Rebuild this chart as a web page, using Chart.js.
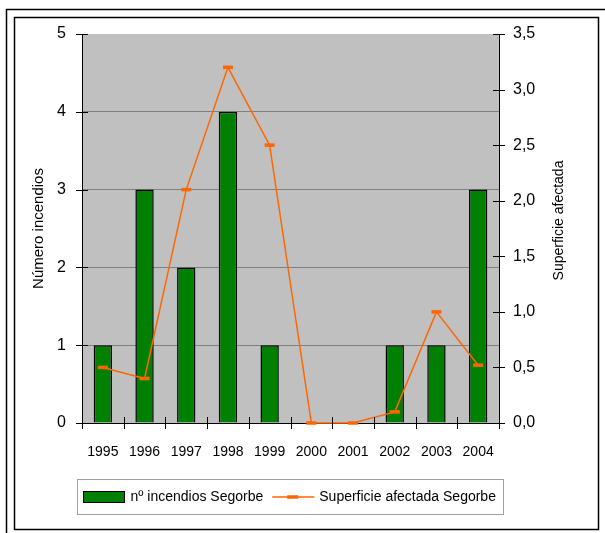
<!DOCTYPE html>
<html>
<head>
<meta charset="utf-8">
<script src="https://cdn.jsdelivr.net/npm/chart.js@4/dist/chart.umd.min.js"></script>
<style>
  body { margin: 0; background: #fff; }
  #grafico { display: block; }
</style>
</head>
<body>
<canvas id="grafico" width="605" height="533"></canvas>
<script>
// datos
const anios = ['1995', '1996', '1997', '1998', '1999', '2000', '2001', '2002', '2003', '2004'];
const numIncendios = [1, 3, 2, 4, 1, 0, 0, 1, 1, 3];
const superficie = [0.5, 0.4, 2.1, 3.2, 2.5, 0, 0, 0.1, 1.0, 0.52];
const ticksIzq = [0, 1, 2, 3, 4, 5];
const ticksDer = [0, 0.5, 1, 1.5, 2, 2.5, 3, 3.5];

const fuente = '"Liberation Sans", Arial, sans-serif';
const naranja = '#FF6600';
const verde = '#008000';

Chart.defaults.font.family = fuente;
Chart.defaults.font.size = 14;
Chart.defaults.color = '#000';

// fondo, marcos, marcas de eje cruzadas, titulo derecho y leyenda
const decorado = {
  id: 'decorado',
  beforeDraw(chart) {
    const c = chart.ctx, a = chart.chartArea;
    c.save();
    c.fillStyle = '#fff';
    c.fillRect(0, 0, chart.width, chart.height);
    c.fillStyle = '#C0C0C0';
    c.fillRect(a.left, a.top, a.right - a.left, a.bottom - a.top);
    c.restore();
  },
  afterDraw(chart) {
    const c = chart.ctx, a = chart.chartArea;
    c.save();
    c.strokeStyle = '#000';
    c.lineWidth = 1.5;
    // marco exterior
    c.beginPath();
    c.moveTo(6.5, 533); c.lineTo(6.5, 9.5); c.lineTo(605, 9.5);
    c.stroke();
    // marco interior
    c.strokeRect(14.5, 17.5, 584, 512);

    c.lineWidth = 1;
    // marcas eje izquierdo
    const y = chart.scales.y;
    ticksIzq.forEach(v => {
      const py = Math.round(y.getPixelForValue(v)) + 0.5;
      c.beginPath(); c.moveTo(a.left - 6, py); c.lineTo(a.left + 6, py); c.stroke();
    });
    const y1 = chart.scales.y1;
    ticksDer.forEach(v => {
      const py = Math.round(y1.getPixelForValue(v)) + 0.5;
      c.beginPath(); c.moveTo(a.right - 6, py); c.lineTo(a.right + 6, py); c.stroke();
    });
    const x = chart.scales.x;
    const paso = (x.getPixelForValue(1) - x.getPixelForValue(0));
    for (let i = 0; i <= anios.length; i++) {
      const px = Math.round(x.getPixelForValue(i) - paso / 2) + 0.5;
      c.beginPath(); c.moveTo(px, a.bottom - 6); c.lineTo(px, a.bottom + 6); c.stroke();
    }

    // titulo eje derecho (leido de abajo a arriba)
    c.fillStyle = '#000';
    c.font = '14px ' + fuente;
    c.translate(559, (a.top + a.bottom) / 2 - 8);
    c.rotate(-Math.PI / 2);
    c.textAlign = 'center';
    c.textBaseline = 'middle';
    c.fillText('Superficie afectada', 0, 0);
    c.restore();

    // leyenda
    const ds = chart.data.datasets;
    c.save();
    c.font = '14px ' + fuente;
    c.textBaseline = 'middle';
    const cy = 497;
    const w1 = c.measureText(ds[0].label).width;
    const w2 = c.measureText(ds[1].label).width;
    const ancho = 6 + 41 + 6 + w1 + 9 + 42 + 5 + w2 + 8;
    const x0 = Math.round((a.left + a.right) / 2 - ancho / 2) + 0.5;
    c.strokeStyle = '#A0A0A0';
    c.lineWidth = 1;
    c.strokeRect(x0, 479.5, Math.round(ancho), 35);
    let px = x0 + 6;
    c.fillStyle = verde;
    c.fillRect(px, cy - 5.5, 41, 11);
    c.strokeStyle = '#000';
    c.strokeRect(px, cy - 5.5, 41, 11);
    px += 47;
    c.fillStyle = '#000';
    c.fillText(ds[0].label, px, cy);
    px += w1 + 9;
    c.strokeStyle = naranja;
    c.lineWidth = 1.5;
    c.beginPath(); c.moveTo(px, cy); c.lineTo(px + 42, cy); c.stroke();
    c.lineWidth = 3.5;
    c.beginPath(); c.moveTo(px + 15, cy); c.lineTo(px + 26, cy); c.stroke();
    px += 47;
    c.fillText(ds[1].label, px, cy);
    c.restore();
  }
};

const ctx = document.getElementById('grafico').getContext('2d');
const grafico = new Chart(ctx, {
  type: 'bar',
  data: {
    labels: anios,
    datasets: [{
      label: 'nº incendios Segorbe',
      data: numIncendios,
      yAxisID: 'y',
      backgroundColor: verde,
      borderColor: '#000',
      borderWidth: 1.5,
      barPercentage: 0.44,
      categoryPercentage: 1,
      order: 1
    }, {
      type: 'line',
      label: 'Superficie afectada Segorbe',
      data: superficie,
      yAxisID: 'y1',
      borderColor: naranja,
      borderWidth: 1.5,
      pointStyle: 'line',
      pointRadius: 5,
      pointBorderWidth: 3.5,
      pointBorderColor: naranja,
      pointBackgroundColor: naranja,
      tension: 0,
      clip: 4,
      order: 0
    }]
  },
  options: {
    responsive: false,
    animation: false,
    devicePixelRatio: 1,
    layout: { padding: { left: 0, right: 0, top: 34, bottom: 0 } },
    plugins: {
      legend: { display: false },
      tooltip: { enabled: false }
    },
    scales: {
      x: {
        offset: true,
        grid: { display: true, drawOnChartArea: false, drawTicks: false, offset: true },
        border: { color: '#000', width: 1 },
        ticks: { padding: 21, maxRotation: 0 },
        afterFit(s) { s.height = 110; }
      },
      y: {
        position: 'left',
        min: 0, max: 5,
        afterBuildTicks(s) { s.ticks = ticksIzq.map(v => ({ value: v })); },
        grid: {
          drawTicks: false,
          color: c => (c.tick && c.tick.value > 0 && c.tick.value < 5) ? '#808080' : 'rgba(0,0,0,0)',
          lineWidth: 1
        },
        border: { color: '#000', width: 1 },
        ticks: { padding: 16, font: { size: 16 } },
        title: {
          display: true,
          text: 'Número incendios',
          font: { size: 15 },
          padding: { top: 30, bottom: 0 }
        },
        afterFit(s) { s.width = 82; }
      },
      y1: {
        position: 'right',
        min: 0, max: 3.5,
        afterBuildTicks(s) { s.ticks = ticksDer.map(v => ({ value: v })); },
        grid: { drawOnChartArea: false, drawTicks: false },
        border: { color: '#000', width: 1 },
        ticks: {
          padding: 14,
          font: { size: 16 },
          callback: v => v.toFixed(1).replace('.', ',')
        },
        afterFit(s) { s.width = 106; }
      }
    }
  },
  plugins: [decorado]
});
</script>
</body>
</html>
